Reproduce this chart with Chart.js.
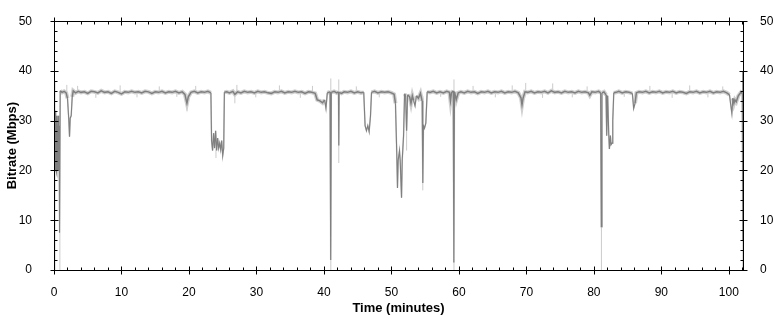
<!DOCTYPE html>
<html>
<head>
<meta charset="utf-8">
<script src="https://cdn.jsdelivr.net/npm/chart.js@4"></script>
<style>
  html, body { margin: 0; padding: 0; background: #fff; }
  #wrap { width: 774px; height: 320px; }
</style>
</head>
<body>
<div id="wrap"><canvas id="chartBitrate" width="774" height="320"></canvas></div>
<script>
/* Bitrate over time */

const X_MAX = 102.1;
const Y_MAX = 50;

// minutes
const time = [
  0.00, 0.04, 0.08, 0.12, 0.16, 0.20, 0.24, 0.28, 0.32, 0.36, 0.40, 0.44, 0.48, 0.52, 0.56, 0.60,
  0.64, 0.68, 0.72, 0.76, 0.80, 0.85, 0.92, 1.2, 1.5, 1.8, 2.0, 2.2, 2.3, 2.4, 2.55, 2.7, 2.85,
  3.2, 3.6, 4.0, 4.5, 5.0, 5.5, 6.0, 6.5, 7.0, 7.5, 8.0, 8.5, 9.0, 9.5, 10.0, 10.5, 11.0, 11.5,
  12.0, 12.5, 13.0, 13.5, 14.0, 14.5, 15.0, 15.5, 16.0, 16.5, 17.0, 17.5, 18.0, 18.5, 19.0, 19.4,
  19.7, 19.9, 20.3, 20.8, 21.3, 21.8, 22.3, 22.8, 23.25, 23.35, 23.5, 23.65, 23.8, 23.95, 24.1,
  24.25, 24.4, 24.55, 24.7, 24.85, 25.0, 25.15, 25.25, 25.6, 26.0, 26.5, 26.8, 27.2, 27.7, 28.2,
  28.7, 29.2, 29.7, 30.2, 30.7, 31.2, 31.7, 32.2, 32.7, 33.2, 33.7, 34.2, 34.7, 35.2, 35.7, 36.2,
  36.7, 37.2, 37.7, 38.2, 38.7, 39.0, 39.4, 39.8, 40.1, 40.3, 40.5, 40.9, 41.0, 41.1, 41.5, 41.9,
  42.15, 42.2, 42.25, 42.6, 43.0, 43.5, 44.0, 44.5, 45.0, 45.5, 45.9, 46.1, 46.3, 46.5, 46.7, 46.9,
  47.05, 47.5, 48.0, 48.5, 49.0, 49.5, 50.0, 50.4, 50.6, 50.8, 50.9, 51.0, 51.2, 51.3, 51.5, 51.6,
  51.8, 51.95, 52.1, 52.25, 52.4, 52.7, 52.9, 53.1, 53.3, 53.5, 53.7, 54.0, 54.3, 54.55, 54.65,
  54.75, 54.9, 55.1, 55.3, 55.7, 56.2, 56.7, 57.2, 57.7, 58.2, 58.6, 58.75, 58.9, 59.15, 59.25,
  59.35, 59.6, 59.9, 60.3, 60.8, 61.3, 61.8, 62.3, 62.8, 63.3, 63.8, 64.3, 64.8, 65.3, 65.8, 66.3,
  66.8, 67.3, 67.8, 68.3, 68.8, 69.2, 69.35, 69.5, 69.8, 70.2, 70.7, 71.2, 71.7, 72.2, 72.7, 73.2,
  73.7, 74.2, 74.7, 75.2, 75.7, 76.2, 76.7, 77.2, 77.7, 78.2, 78.7, 79.2, 79.4, 79.7, 80.2, 80.7,
  81.0, 81.1, 81.2, 81.5, 81.8, 81.9, 82.05, 82.2, 82.3, 82.45, 82.55, 82.7, 82.8, 82.95, 83.3,
  83.7, 84.2, 84.7, 85.2, 85.7, 85.9, 86.1, 86.3, 86.7, 87.2, 87.7, 88.2, 88.7, 89.2, 89.7, 90.2,
  90.7, 91.2, 91.7, 92.2, 92.7, 93.2, 93.7, 94.2, 94.7, 95.2, 95.7, 96.2, 96.7, 97.2, 97.7, 98.2,
  98.7, 99.2, 99.7, 100.1, 100.3, 100.45, 100.6, 100.75, 100.9, 101.1, 101.4, 101.8, 102.0,
  102.05, 102.08
];

// Mbps
const bitrate = [
  0, 38, 24, 31, 20, 29, 22, 32, 20, 30, 19.5, 31, 21, 29, 20, 31,
  22, 30, 20, 29, 21, 7.5, 36, 35.7, 35.9, 35.6, 34.5, 30, 26.8, 30.5, 31, 34.8, 36.0,
  35.6, 35.9, 35.7, 35.8, 35.5, 35.9, 35.8, 35.6, 36.0, 35.7, 35.8, 35.5, 35.9, 35.7, 35.4, 35.8, 35.7, 35.9,
  35.7, 35.8, 35.6, 35.9, 35.8, 35.5, 35.8, 35.7, 35.9, 35.6, 35.8, 35.7, 35.9, 35.6, 35.8, 35.3,
  33.5, 34.8, 35.7, 35.9, 35.6, 35.8, 35.7, 35.9, 35.6, 26, 24, 27.5, 24.5, 28, 24,
  26.5, 24.5, 25.5, 24.2, 26, 23, 24.5, 35.7, 35.8, 35.6, 35.9, 35.3, 35.8, 35.6, 35.9,
  35.7, 35.8, 35.6, 35.9, 35.7, 35.8, 35.6, 35.5, 35.8, 35.7, 35.9, 35.6, 35.8, 35.7, 35.9, 35.7,
  35.8, 35.5, 35.8, 35.7, 35.5, 34.2, 34.0, 33.6, 34.2, 32.5, 35.6, 35.8, 2, 35.7, 35.9, 35.6,
  35.8, 25, 35.7, 35.5, 35.8, 35.7, 35.9, 35.6, 35.8, 35.6, 35.7, 29, 28, 29, 27.8, 31,
  35.7, 35.9, 35.6, 35.8, 35.7, 35.8, 35.6, 35.3, 33.5, 23, 16.5, 22, 24, 22, 14.5, 22,
  27, 35.4, 35.0, 28, 35.2, 34.8, 33.5, 35.0, 34.0, 33.0, 35.0, 34.5, 35.5, 34, 17.5,
  29, 28.5, 29.5, 35.8, 35.7, 35.9, 35.6, 35.8, 35.6, 35.9, 35.7, 34, 35.6, 36, 1.5,
  35.8, 34.2, 35.6, 35.8, 35.6, 35.9, 35.7, 35.8, 35.5, 35.8, 35.7, 35.9, 35.6, 35.8, 35.7, 35.9,
  35.6, 35.8, 35.7, 35.9, 35.6, 34.6, 33.2, 34.5, 35.8, 35.7, 35.9, 35.6, 35.8, 35.7, 35.9, 35.6,
  36.0, 35.7, 35.8, 35.6, 35.9, 35.7, 35.8, 35.6, 35.9, 35.7, 35.8, 35.6, 35.1, 35.8, 35.7, 35.9,
  35.6, 8.7, 35.6, 35.8, 35.2, 27, 35, 27.5, 24.3, 27, 25.2, 25.5, 30, 35.6, 35.7,
  35.9, 35.6, 35.8, 35.7, 35.5, 32.5, 33.5, 35.6, 35.8, 35.7, 35.9, 35.6, 35.8, 35.7, 35.9, 35.6,
  35.8, 35.7, 35.9, 35.6, 35.8, 35.7, 35.5, 35.8, 35.7, 35.9, 35.6, 35.8, 35.7, 35.9, 35.6, 35.8,
  35.7, 35.9, 35.6, 35.2, 33, 31.5, 34.5, 33.5, 34.2, 33.8, 35.0, 35.7, 35.5,
  6, 40
];

// light-grey peak samples reaching past the averaged line
const spikeTime = [
  0.87, 1.9, 3.5, 6.2, 9.8, 12.3, 15.6, 18.2, 19.7, 21.0, 24.0, 26.8, 27.1, 29.9, 33.4, 36.5,
  38.3, 41.02, 42.2, 44.8, 48.2, 52.25, 54.65, 57.3, 59.27, 62.1, 65.4, 67.9, 69.9, 72.4, 73.9,
  76.8, 79.0, 81.12, 84.5, 88.3, 91.6, 94.2, 96.9, 99.1, 102.06
];
const spikeFrom = [
  0, 35.5, 35.5, 34.6, 35.5, 34.7, 35.5, 34.8, 32, 35.5, 22.5, 33.5, 35.5, 34.7, 35.5, 34.6,
  35.5, 0, 21.5, 35.5, 34.7, 24, 16, 34.8, 0, 35.5, 34.7, 35.5, 35.5, 34.6, 35.5,
  34.7, 35.5, 0, 34.8, 35.5, 34.6, 35.5, 34.7, 35.5, 0
];
const spikeTo = [
  7.5, 37.2, 37.0, 35.8, 37.1, 35.8, 36.9, 35.8, 35, 37.0, 24.5, 36, 37.2, 35.8, 37.1, 35.8,
  37.0, 38.5, 38.3, 36.9, 35.8, 35, 35, 35.8, 38.3, 37.0, 35.8, 37.1, 37.6, 35.8, 37.5,
  35.8, 36.9, 8.7, 35.8, 37.0, 35.8, 37.1, 35.8, 36.9, 6
];

const points = time.map((t, i) => ({ x: t, y: bitrate[i] }));
const spikes = spikeTime.flatMap((t, i) => [
  { x: t, y: spikeFrom[i] }, { x: t, y: spikeTo[i] }, { x: t + 0.001, y: null },
]);

/* frame + crossing major / inner minor ticks */
const frameTicks = {
  id: 'frameTicks',
  afterDatasetsDraw(chart) {
    const { ctx, chartArea: a, scales: { x, y } } = chart;
    const L = Math.floor(a.left) + 0.5, R = Math.floor(a.right) + 0.5;
    const T = Math.floor(a.top) + 0.5, B = Math.floor(a.bottom) + 0.5;
    ctx.save();
    ctx.strokeStyle = '#000';
    ctx.lineWidth = 1;
    ctx.beginPath();
    ctx.rect(L, T, R - L, B - T);
    for (let v = 0; v <= X_MAX; v += 2) {
      const px = Math.round(x.getPixelForValue(v)) + 0.5;
      const major = v % 10 === 0;
      ctx.moveTo(px, B - (major ? 4 : 3)); ctx.lineTo(px, B + (major ? 4 : 0));
      ctx.moveTo(px, T + (major ? 4 : 3)); ctx.lineTo(px, T - (major ? 4 : 0));
    }
    for (let v = 0; v <= Y_MAX; v += 2) {
      const py = Math.round(y.getPixelForValue(v)) + 0.5;
      const major = v % 10 === 0;
      ctx.moveTo(L - (major ? 4 : 0), py); ctx.lineTo(L + (major ? 4 : 3), py);
      ctx.moveTo(R + (major ? 4 : 0), py); ctx.lineTo(R - (major ? 4 : 3), py);
    }
    ctx.stroke();
    ctx.restore();
  },
};

const tickFont = { family: "'Liberation Sans', Arial, sans-serif", size: 12 };
const titleFont = { family: "'Liberation Sans', Arial, sans-serif", size: 13, weight: 'bold' };
const onPlateau = c => c.p0.parsed.y > 33 && c.p1.parsed.y > 33;

new Chart(document.getElementById('chartBitrate'), {
  type: 'line',
  data: {
    datasets: [
      {
        label: 'Bitrate',
        data: points,
        borderColor: '#7f7f7f',
        borderWidth: 1.5,
        segment: { borderWidth: c => (onPlateau(c) ? 1.5 : 1.1) },
        pointRadius: 0,
        tension: 0,
        order: 0,
      },
      {
        label: 'band',
        data: points,
        borderColor: '#d0d0d0',
        borderWidth: 4,
        segment: { borderWidth: c => (onPlateau(c) ? 4 : 1.5) },
        pointRadius: 0,
        tension: 0,
        order: 1,
      },
      {
        label: 'peaks',
        data: spikes,
        borderColor: '#cbcbcb',
        borderWidth: 1,
        pointRadius: 0,
        spanGaps: false,
        order: 2,
      },
    ],
  },
  options: {
    responsive: false,
    animation: false,
    events: [],
    layout: { padding: { top: 8, left: 0, right: 0, bottom: 0 } },
    plugins: { legend: { display: false }, tooltip: { enabled: false } },
    scales: {
      x: {
        type: 'linear',
        min: 0,
        max: X_MAX,
        border: { display: false },
        grid: { display: false },
        ticks: { stepSize: 10, includeBounds: false, color: '#000', font: tickFont, padding: 7, maxRotation: 0 },
        title: { display: true, text: 'Time (minutes)', color: '#000', font: titleFont, padding: { top: 0, bottom: 4 } },
        afterFit: s => { s.height = 50; },
      },
      y: {
        position: 'left',
        min: 0,
        max: Y_MAX,
        border: { display: false },
        grid: { display: false },
        ticks: { stepSize: 10, color: '#000', font: tickFont, padding: 14 },
        title: { display: true, text: 'Bitrate (Mbps)', color: '#000', font: titleFont, padding: { top: 5, bottom: 0 } },
        afterFit: s => { s.width = 54; },
      },
      y2: {
        position: 'right',
        min: 0,
        max: Y_MAX,
        border: { display: false },
        grid: { display: false },
        ticks: { stepSize: 10, color: '#000', font: tickFont, padding: 9 },
        afterFit: s => { s.width = 31; },
      },
    },
  },
  plugins: [frameTicks],
});
</script>
</body>
</html>
